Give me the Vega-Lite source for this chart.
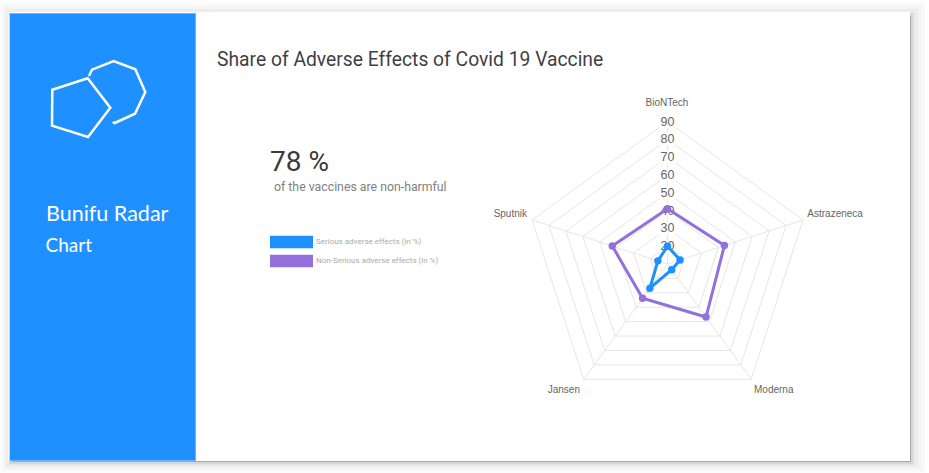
{
"$schema":"https://vega.github.io/schema/vega-lite/v6.json",
"width":929,"height":473,
"autosize":{"type":"fit","contains":"padding"},
"padding":0,
"background":"white",
"config":{"view":{"stroke":null},"axis":{"disable":true}},
"datasets":{
"radar":[
{"vaccine":"BioNTech","series":"Serious adverse effects (in %)","value":20},
{"vaccine":"Astrazeneca","series":"Serious adverse effects (in %)","value":17.4},
{"vaccine":"Moderna","series":"Serious adverse effects (in %)","value":14},
{"vaccine":"Jansen","series":"Serious adverse effects (in %)","value":26.8},
{"vaccine":"Sputnik","series":"Serious adverse effects (in %)","value":15.7},
{"vaccine":"BioNTech","series":"Non-Serious adverse effects (in %)","value":41},
{"vaccine":"Astrazeneca","series":"Non-Serious adverse effects (in %)","value":43.6},
{"vaccine":"Moderna","series":"Non-Serious adverse effects (in %)","value":46.8},
{"vaccine":"Jansen","series":"Non-Serious adverse effects (in %)","value":33.8},
{"vaccine":"Sputnik","series":"Non-Serious adverse effects (in %)","value":42.6}
],
"ticks":[{"tick":20},{"tick":30},{"tick":40},{"tick":50},{"tick":60},{"tick":70},{"tick":80},{"tick":90}],
"axes":[{"vaccine":"BioNTech"},{"vaccine":"Astrazeneca"},{"vaccine":"Moderna"},{"vaccine":"Jansen"},{"vaccine":"Sputnik"}],
"one":[{"label":"card"}]
},
"layer":[
{"data":{"name":"one"},"mark":{"type":"rect","fill":"#000","opacity":0.012},"encoding":{"x":{"datum":0,"type":"quantitative","scale":{"domain":[0,929],"nice":false,"zero":false}},"x2":{"datum":926},"y":{"datum":1,"type":"quantitative","scale":{"domain":[0,473],"reverse":true,"nice":false,"zero":false}},"y2":{"datum":473}}},
{"data":{"name":"one"},"mark":{"type":"rect","fill":"#000","opacity":0.014},"encoding":{"x":{"datum":2,"type":"quantitative"},"x2":{"datum":924},"y":{"datum":4,"type":"quantitative"},"y2":{"datum":471}}},
{"data":{"name":"one"},"mark":{"type":"rect","fill":"#000","opacity":0.018},"encoding":{"x":{"datum":4,"type":"quantitative"},"x2":{"datum":921},"y":{"datum":7,"type":"quantitative"},"y2":{"datum":469}}},
{"data":{"name":"one"},"mark":{"type":"rect","fill":"#000","opacity":0.025},"encoding":{"x":{"datum":6,"type":"quantitative"},"x2":{"datum":918},"y":{"datum":9,"type":"quantitative"},"y2":{"datum":467}}},
{"data":{"name":"one"},"mark":{"type":"rect","fill":"#000","opacity":0.035},"encoding":{"x":{"datum":9,"type":"quantitative"},"x2":{"datum":915},"y":{"datum":13,"type":"quantitative"},"y2":{"datum":465}}},
{"data":{"name":"one"},"mark":{"type":"rect","fill":"#000","opacity":0.06},"encoding":{"x":{"datum":9,"type":"quantitative"},"x2":{"datum":913},"y":{"datum":13,"type":"quantitative"},"y2":{"datum":464}}},
{"data":{"name":"one"},"mark":{"type":"rect","fill":"#000","opacity":0.22},"encoding":{"x":{"datum":12,"type":"quantitative"},"x2":{"datum":911},"y":{"datum":16,"type":"quantitative"},"y2":{"datum":462}}},
{"data":{"name":"one"},"mark":{"type":"rect","fill":"white"},"encoding":{"x":{"datum":8.5,"type":"quantitative"},"x2":{"datum":910},"y":{"datum":12,"type":"quantitative"},"y2":{"datum":461}}},
{"data":{"name":"one"},"mark":{"type":"rect","fill":"#6CB6FF"},"encoding":{"x":{"datum":9.5,"type":"quantitative"},"x2":{"datum":196},"y":{"datum":13,"type":"quantitative"},"y2":{"datum":461}}},
{"data":{"name":"one"},"mark":{"type":"rect","fill":"#1E90FF"},"encoding":{"x":{"datum":10,"type":"quantitative"},"x2":{"datum":195},"y":{"datum":14,"type":"quantitative"},"y2":{"datum":460}}},
{"data":{"name":"one"},"mark":{"type":"point","shape":"M-47.7,-10.3L-12.3,-21.7L10.3,7.7L-12,37L-48,25.7Z","size":4,"filled":false,"stroke":"white","strokeWidth":2.5,"opacity":1},"encoding":{"x":{"datum":100,"type":"quantitative"},"y":{"datum":100,"type":"quantitative"}}},
{"data":{"name":"one"},"mark":{"type":"point","shape":"M-11,-24L-8,-30.3L13.7,-39L35.3,-30.7L45.3,-8L35,13.7L14.7,23L12.7,22","size":4,"filled":false,"stroke":"white","strokeWidth":2.5,"opacity":1},"encoding":{"x":{"datum":100,"type":"quantitative"},"y":{"datum":100,"type":"quantitative"}}},
{"data":{"values":[{"label":"Bunifu Radar"}]},"mark":{"type":"text","align":"left","baseline":"middle","font":"Comic Sans MS, Lato","fontSize":21.5,"fill":"white"},"encoding":{"x":{"datum":46,"type":"quantitative"},"y":{"datum":215,"type":"quantitative"},"text":{"field":"label"}}},
{"data":{"values":[{"label":"Chart"}]},"mark":{"type":"text","align":"left","baseline":"middle","font":"Comic Sans MS, Lato","fontSize":19,"fill":"white"},"encoding":{"x":{"datum":45.5,"type":"quantitative"},"y":{"datum":246,"type":"quantitative"},"text":{"field":"label"}}},
{"data":{"values":[{"label":"Share of Adverse Effects of Covid 19 Vaccine"}]},"mark":{"type":"text","align":"left","baseline":"middle","font":"Roboto","fontSize":19.3,"fill":"#3f3f46"},"encoding":{"x":{"datum":217,"type":"quantitative"},"y":{"datum":60,"type":"quantitative"},"text":{"field":"label"}}},
{"data":{"values":[{"label":"78 %"}]},"mark":{"type":"text","align":"left","baseline":"middle","font":"Roboto","fontSize":28,"fontWeight":400,"fill":"#3a3a3a"},"encoding":{"x":{"datum":270,"type":"quantitative"},"y":{"datum":163,"type":"quantitative"},"text":{"field":"label"}}},
{"data":{"values":[{"label":"of the vaccines are non-harmful"}]},"mark":{"type":"text","align":"left","baseline":"middle","font":"Roboto","fontSize":12.3,"fill":"#808080"},"encoding":{"x":{"datum":274,"type":"quantitative"},"y":{"datum":187,"type":"quantitative"},"text":{"field":"label"}}},
{"data":{"name":"ticks"},
"transform":[{"calculate":"['BioNTech','Astrazeneca','Moderna','Jansen','Sputnik']","as":"vaccine"},{"flatten":["vaccine"]},
{"calculate":"indexof(['BioNTech','Astrazeneca','Moderna','Jansen','Sputnik'],datum.vaccine)*2*PI/5","as":"a"},
{"calculate":"667.5+1.78125*(datum.tick-10)*sin(datum.a)","as":"px"},{"calculate":"264-1.78125*(datum.tick-10)*cos(datum.a)","as":"py"}],
"mark":{"type":"line","interpolate":"linear-closed","stroke":"#e6e6e6","strokeWidth":1},
"encoding":{"x":{"field":"px","type":"quantitative"},"y":{"field":"py","type":"quantitative"},"detail":{"field":"tick"},"order":{"field":"a"}}},
{"data":{"name":"axes"},
"transform":[{"calculate":"indexof(['BioNTech','Astrazeneca','Moderna','Jansen','Sputnik'],datum.vaccine)*2*PI/5","as":"a"},
{"calculate":"667.5+142.5*sin(datum.a)","as":"px"},{"calculate":"264-142.5*cos(datum.a)","as":"py"},{"calculate":"667.5","as":"cx"},{"calculate":"264","as":"cy"}],
"mark":{"type":"rule","stroke":"#e6e6e6","strokeWidth":1},
"encoding":{"x":{"field":"cx","type":"quantitative"},"y":{"field":"cy","type":"quantitative"},"x2":{"field":"px"},"y2":{"field":"py"}}},
{"data":{"name":"ticks"},"transform":[{"calculate":"264-1.78125*(datum.tick-10)","as":"py"},{"calculate":"667.5","as":"px"}],
"mark":{"type":"point","shape":"M-1,-0.8H1V0.8H-1Z","size":256,"filled":true,"fill":"white","stroke":null,"opacity":1},
"encoding":{"x":{"field":"px","type":"quantitative"},"y":{"field":"py","type":"quantitative"}}},
{"data":{"name":"ticks"},"transform":[{"calculate":"264-1.78125*(datum.tick-10)","as":"py"},{"calculate":"667.5","as":"px"}],
"mark":{"type":"text","align":"center","baseline":"middle","font":"Liberation Sans","fontSize":12.5,"fill":"#666666"},
"encoding":{"x":{"field":"px","type":"quantitative"},"y":{"field":"py","type":"quantitative"},"text":{"field":"tick","type":"quantitative"}}},
{"data":{"name":"radar"},
"transform":[{"calculate":"indexof(['BioNTech','Astrazeneca','Moderna','Jansen','Sputnik'],datum.vaccine)*2*PI/5","as":"a"},
{"calculate":"667.5+1.78125*(datum.value-10)*sin(datum.a)","as":"px"},{"calculate":"264-1.78125*(datum.value-10)*cos(datum.a)","as":"py"}],
"mark":{"type":"line","interpolate":"linear-closed","strokeWidth":3},
"encoding":{"x":{"field":"px","type":"quantitative"},"y":{"field":"py","type":"quantitative"},"order":{"field":"a"},
"color":{"field":"series","type":"nominal","scale":{"domain":["Serious adverse effects (in %)","Non-Serious adverse effects (in %)"],"range":["#1E90FF","#9370DB"]},
"legend":{"orient":"none","legendX":270,"legendY":235.5,"title":null,"padding":0,"symbolType":"M-1,-0.3H1V0.3H-1Z","symbolSize":1849,"symbolOpacity":1,"symbolStrokeWidth":0,"clipHeight":13,"rowPadding":6,"labelFont":"Roboto","labelFontSize":8,"labelColor":"#aaaaaa","labelOffset":3,"labelLimit":200}}}},
{"data":{"name":"radar"},
"transform":[{"calculate":"indexof(['BioNTech','Astrazeneca','Moderna','Jansen','Sputnik'],datum.vaccine)*2*PI/5","as":"a"},
{"calculate":"667.5+1.78125*(datum.value-10)*sin(datum.a)","as":"px"},{"calculate":"264-1.78125*(datum.value-10)*cos(datum.a)","as":"py"}],
"mark":{"type":"point","filled":true,"size":55,"opacity":1},
"encoding":{"x":{"field":"px","type":"quantitative"},"y":{"field":"py","type":"quantitative"},
"color":{"field":"series","type":"nominal","scale":{"domain":["Serious adverse effects (in %)","Non-Serious adverse effects (in %)"],"range":["#1E90FF","#9370DB"]},
"legend":{"orient":"none","legendX":270,"legendY":235.5,"title":null,"padding":0,"symbolType":"M-1,-0.3H1V0.3H-1Z","symbolSize":1849,"symbolOpacity":1,"symbolStrokeWidth":0,"clipHeight":13,"rowPadding":6,"labelFont":"Roboto","labelFontSize":8,"labelColor":"#aaaaaa","labelOffset":3,"labelLimit":200}}}},
{"data":{"values":[{"vaccine":"BioNTech"}]},"mark":{"type":"text","align":"center","baseline":"middle","font":"Liberation Sans","fontSize":10,"fill":"#666666"},"encoding":{"x":{"datum":667,"type":"quantitative"},"y":{"datum":102.5,"type":"quantitative"},"text":{"field":"vaccine"}}},
{"data":{"values":[{"vaccine":"Astrazeneca"}]},"mark":{"type":"text","align":"left","baseline":"middle","font":"Liberation Sans","fontSize":10,"fill":"#666666"},"encoding":{"x":{"datum":807.3,"type":"quantitative"},"y":{"datum":213.5,"type":"quantitative"},"text":{"field":"vaccine"}}},
{"data":{"values":[{"vaccine":"Moderna"}]},"mark":{"type":"text","align":"left","baseline":"middle","font":"Liberation Sans","fontSize":10,"fill":"#666666"},"encoding":{"x":{"datum":754,"type":"quantitative"},"y":{"datum":390,"type":"quantitative"},"text":{"field":"vaccine"}}},
{"data":{"values":[{"vaccine":"Jansen"}]},"mark":{"type":"text","align":"right","baseline":"middle","font":"Liberation Sans","fontSize":10,"fill":"#666666"},"encoding":{"x":{"datum":580,"type":"quantitative"},"y":{"datum":390,"type":"quantitative"},"text":{"field":"vaccine"}}},
{"data":{"values":[{"vaccine":"Sputnik"}]},"mark":{"type":"text","align":"right","baseline":"middle","font":"Liberation Sans","fontSize":10,"fill":"#666666"},"encoding":{"x":{"datum":527,"type":"quantitative"},"y":{"datum":213.5,"type":"quantitative"},"text":{"field":"vaccine"}}}
]
}
